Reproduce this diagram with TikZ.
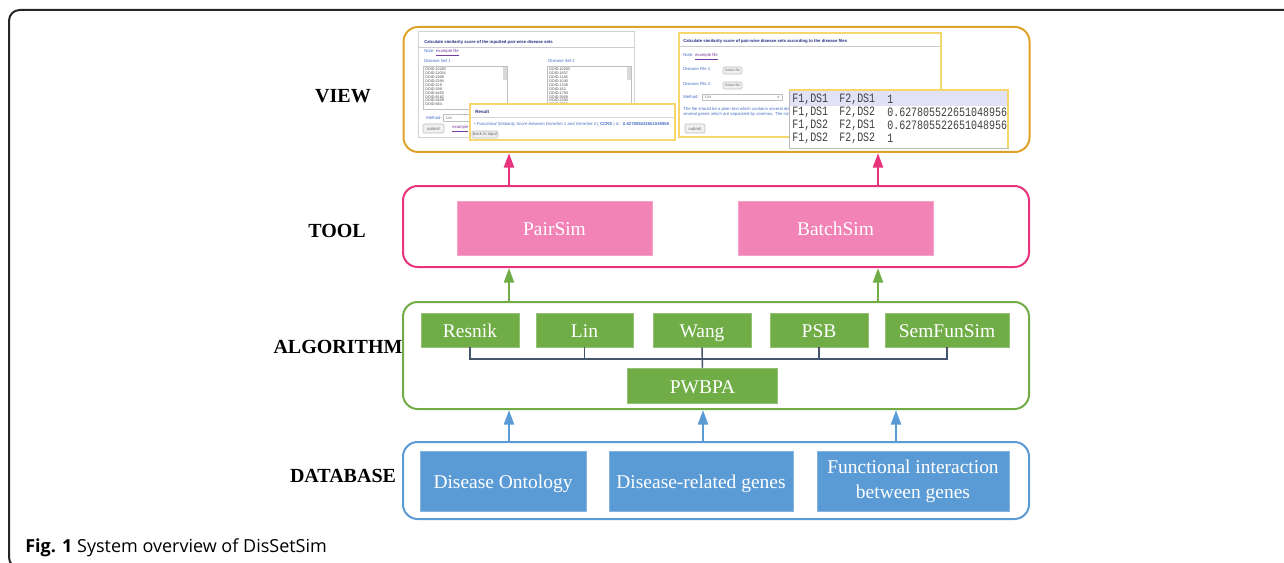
\documentclass[tikz,border=0pt]{standalone}
\usepackage{fontspec}
\setmainfont{Liberation Serif}
\setsansfont{Liberation Sans}
\setmonofont{Liberation Mono}
\newfontfamily\capfont{Open Sans}
\usetikzlibrary{arrows.meta,positioning}

\definecolor{viewgold}{RGB}{222,163,38}
\definecolor{toolpink}{RGB}{232,52,124}
\definecolor{pinkfill}{RGB}{242,131,183}
\definecolor{algogreen}{RGB}{112,173,71}
\definecolor{dbblue}{RGB}{91,155,213}
\definecolor{busgray}{RGB}{68,84,106}
\definecolor{shotyellow}{RGB}{245,215,110}
\definecolor{navytitle}{RGB}{40,45,130}
\definecolor{linkblue}{RGB}{70,110,200}
\definecolor{linkviolet}{RGB}{120,60,160}
\definecolor{rowlav}{RGB}{226,226,247}

\newdimen\pxu \pxu=0.75pt
\newcommand{\sqz}[1]{\scalebox{0.78}[1]{#1}}

\tikzset{
  layer/.style={draw=#1, line width=1.5pt, rounded corners=11pt, minimum width=626\pxu, inner sep=0pt},
  lbl/.style={font=\fontsize{15pt}{17pt}\selectfont\bfseries},
  blk/.style={fill=#1, draw=#1!75!white, line width=0.6pt, text=white, inner sep=0pt,
    align=center, font=\fontsize{14.6pt}{18.75pt}\selectfont},
  oneline/.style={text height=12.5pt, text depth=2pt},
  algobox/.style={blk=algogreen, oneline, minimum height=34\pxu},
  dbbox/.style={blk=dbblue, minimum height=60\pxu},
  uparrow/.style={draw=#1, line width=1.9pt, -{Triangle[length=11pt,width=7.5pt]}},
  bus/.style={draw=busgray, line width=1.1pt},
  shottext/.style={anchor=west, inner sep=0pt, text=linkblue, font=\sffamily\fontsize{3.2pt}{4pt}\selectfont},
  shotbtn/.style={draw=gray!50, fill=gray!12, rounded corners=1pt},
  mono/.style={anchor=west, inner sep=0pt, text=black!75, font=\ttfamily\fontsize{9.6pt}{11pt}\selectfont},
}

\begin{document}
\begin{tikzpicture}[x=0.75pt, y=-0.75pt]
  \useasboundingbox (0,0) rectangle (1284,563);
  % figure frame
  \draw[black!85, line width=1.5pt, rounded corners=8pt] (1300,10) -- (9,10) -- (9,568) -- (1300,568);

  % layers
  \node[layer=viewgold, minimum height=125\pxu] (view) at (716.5,89.5) {};
  \node[layer=toolpink, minimum height=81\pxu] (tool) at (716,226.5) {};
  \node[layer=algogreen, minimum height=107\pxu] (algo) at (716,355.5) {};
  \node[layer=dbblue, minimum height=77\pxu] (db) at (716,480.5) {};

  \node[lbl] (lview) at (343,96) {VIEW};
  \node[lbl] (ltool) at (337,231) {TOOL};
  \node[lbl] (lalgo) at (338,347) {ALGORITHM};
  \node[lbl] (ldb) at (343,476) {DATABASE};

  % tool
  \node[blk=pinkfill, oneline, minimum width=195\pxu, minimum height=54\pxu] (pairsim) at (554.5,228) {PairSim};
  \node[blk=pinkfill, oneline, minimum width=195\pxu, minimum height=54\pxu] (batchsim) at (835.5,228) {BatchSim};

  % algorithm
  \node[algobox, minimum width=98\pxu] (resnik) at (470,330) {Resnik};
  \node[algobox, minimum width=97\pxu] (lin) at (584.5,330) {Lin};
  \node[algobox, minimum width=98\pxu] (wang) at (702,330) {Wang};
  \node[algobox, minimum width=98\pxu] (psb) at (819,330) {PSB};
  \node[algobox, minimum width=124\pxu] (semfun) at (947,330) {SemFunSim};
  \node[algobox, minimum width=150\pxu, minimum height=35\pxu] (pwbpa) at (702.5,386) {PWBPA};

  \coordinate (busy) at (0,359);
  \draw[bus] (resnik.south) -- (resnik.south |- busy) -- (semfun.south |- busy) -- (semfun.south);
  \draw[bus] (lin.south) -- (lin.south |- busy);
  \draw[bus] (psb.south) -- (psb.south |- busy);
  \draw[bus] (wang.south) -- (pwbpa.north);

  % database
  \node[dbbox, oneline, minimum width=166\pxu] (onto) at (503,481) {Disease Ontology};
  \node[dbbox, oneline, minimum width=184\pxu] (genes) at (701,481) {Disease-related genes};
  \node[dbbox, minimum width=192\pxu] (inter) at (913,481) {Functional interaction\\between genes};

  % arrows
  \coordinate (c1) at (509,0);
  \coordinate (c2) at (878,0);
  \coordinate (c3) at (703,0);
  \coordinate (c4) at (896,0);
  \draw[uparrow=toolpink] (tool.north -| c1) -- (view.south -| c1);
  \draw[uparrow=toolpink] (tool.north -| c2) -- (view.south -| c2);
  \draw[uparrow=algogreen] (algo.north -| c1) -- (tool.south -| c1);
  \draw[uparrow=algogreen] (algo.north -| c2) -- (tool.south -| c2);
  \draw[uparrow=dbblue] (db.north -| c1) -- (algo.south -| c1);
  \draw[uparrow=dbblue] (db.north -| c3) -- (algo.south -| c3);
  \draw[uparrow=dbblue] (db.north -| c4) -- (algo.south -| c4);

  % view: pair-wise page
  \draw[gray!35, fill=white] (418,31) rectangle (634,137);
  \node[shottext, text=navytitle, font=\sffamily\bfseries\fontsize{3.2pt}{4pt}\selectfont] (pt1) at (424,42) {Calculate similarity score of the inputted pair-wise disease sets};
  \draw[gray!40] (418,47) -- (634,47);
  \node[shottext] (pt2) at (424,53) {Note: \textcolor{linkviolet}{\underline{example file}}};
  \node[shottext] (pt3) at (424,61) {Disease Set 1};
  \node[shottext] (pt4) at (548,61) {Disease Set 2};
  \draw[gray!50, fill=white] (423,66) rectangle (507,109);
  \draw[gray!50, fill=white] (547,66) rectangle (631,109);
  \fill[gray!30] (503,67) rectangle (506.5,80);
  \fill[gray!30] (627,67) rectangle (630.5,80);
  \foreach \i/\d in {0/10283,1/11054,2/1909,3/2394,4/219,5/299,6/4450,7/9182,8/5409,9/684}
    \node[shottext, text=black!70, font=\sffamily\fontsize{2.8pt}{3pt}\selectfont] (la\i) at (425,69.5+\i*3.9) {DOID:\d};
  \foreach \i/\d in {0/10283,1/1837,2/1148,3/1040,4/1338,5/162,6/1793,7/3908,8/2394,9/2030}
    \node[shottext, text=black!70, font=\sffamily\fontsize{2.8pt}{3pt}\selectfont] (lb\i) at (549,69.5+\i*3.9) {DOID:\d};
  \node[shottext] (pt5) at (426,118) {Method:};
  \draw[gray!50] (443,114) rectangle (480,121);
  \node[shottext, text=black!60] (pt6) at (446,117.5) {Lin};
  \draw[shotbtn] (423,124) rectangle (444,133);
  \node[shottext, anchor=center, text=black!60] (pt7) at (433.5,128.5) {submit};
  \node[shottext, text=linkviolet] (pt8) at (452,128.5) {\underline{example}};

  % view: result
  \draw[shotyellow, fill=white, line width=0.8pt] (470,104) rectangle (675,140);
  \node[shottext, text=navytitle, font=\sffamily\bfseries\fontsize{3.4pt}{4pt}\selectfont] (rs1) at (475,112) {Result};
  \draw[gray!30] (471,117) -- (674,117);
  \node[shottext] (rs2) at (474,124) {\textbullet\ \textit{Functional Similarity Score between GeneSet 1 and GeneSet 2} ( \textbf{CCRS} ) is : \textbf{0.627805522651048956}};
  \draw[shotbtn] (472,131) rectangle (498,138);
  \node[shottext, anchor=center, text=black!60] (rs3) at (485,134.5) {back to input};

  % view: batch page
  \draw[shotyellow, fill=white, line width=0.8pt] (679,33) rectangle (941,137);
  \node[shottext, text=navytitle, font=\sffamily\bfseries\fontsize{3.2pt}{4pt}\selectfont] (bt1) at (683,41) {Calculate similarity score of pair-wise disease sets according to the disease files};
  \draw[gray!40] (680,46) -- (940,46);
  \node[shottext] (bt2) at (683,57) {Note: \textcolor{linkviolet}{\underline{example file}}};
  \node[shottext] (bt3) at (683,69) {Disease File 1:};
  \draw[shotbtn] (723,67) rectangle (742,74);
  \node[shottext, anchor=center, text=black!60, font=\sffamily\fontsize{2.6pt}{3pt}\selectfont] (bt4) at (732.5,70.5) {Select file};
  \node[shottext] (bt5) at (683,84) {Disease File 2:};
  \draw[shotbtn] (723,82) rectangle (742,89);
  \node[shottext, anchor=center, text=black!60, font=\sffamily\fontsize{2.6pt}{3pt}\selectfont] (bt6) at (732.5,85.5) {Select file};
  \node[shottext] (bt7) at (683,97) {Method:};
  \draw[gray!50] (702,94) rectangle (782,100);
  \node[shottext, text=black!60] (bt8) at (705,97) {Lin};
  \node[shottext, text=black!60] (bt9) at (777,97) {v};
  \node[shottext] (bt10) at (683,109) {The file should be a plain text which contains several dise};
  \node[shottext] (bt11) at (683,114) {several genes which are separated by commas. The size};
  \draw[shotbtn] (685,124) rectangle (705,133);
  \node[shottext, anchor=center, text=black!60] (bt12) at (695,128.5) {submit};

  % view: result file
  \draw[gray!55, fill=white] (789,90) rectangle (1008,148);
  \draw[shotyellow, line width=0.8pt] (789,90) -- (1008,90) -- (1008,148);
  \fill[rowlav] (790,91) rectangle (1007,106);
  \foreach \n/\a/\b/\v/\yy in {1/1/1/1/99, 2/1/2/0.627805522651048956/112, 3/2/1/0.627805522651048956/125, 4/2/2/1/138} {
    \node[mono] (fa\n) at (792,\yy) {\sqz{F1,DS\a}};
    \node[mono] (fb\n) at (839,\yy) {\sqz{F2,DS\b}};
    \node[mono] (fv\n) at (887,\yy) {\sqz{\v}};
  }

  % caption
  \node[anchor=base west, inner sep=0pt, font=\capfont\fontsize{13.5pt}{16pt}\selectfont] (caption) at (25,552) {\textbf{Fig. 1} System overview of DisSetSim};
\end{tikzpicture}
\end{document}
